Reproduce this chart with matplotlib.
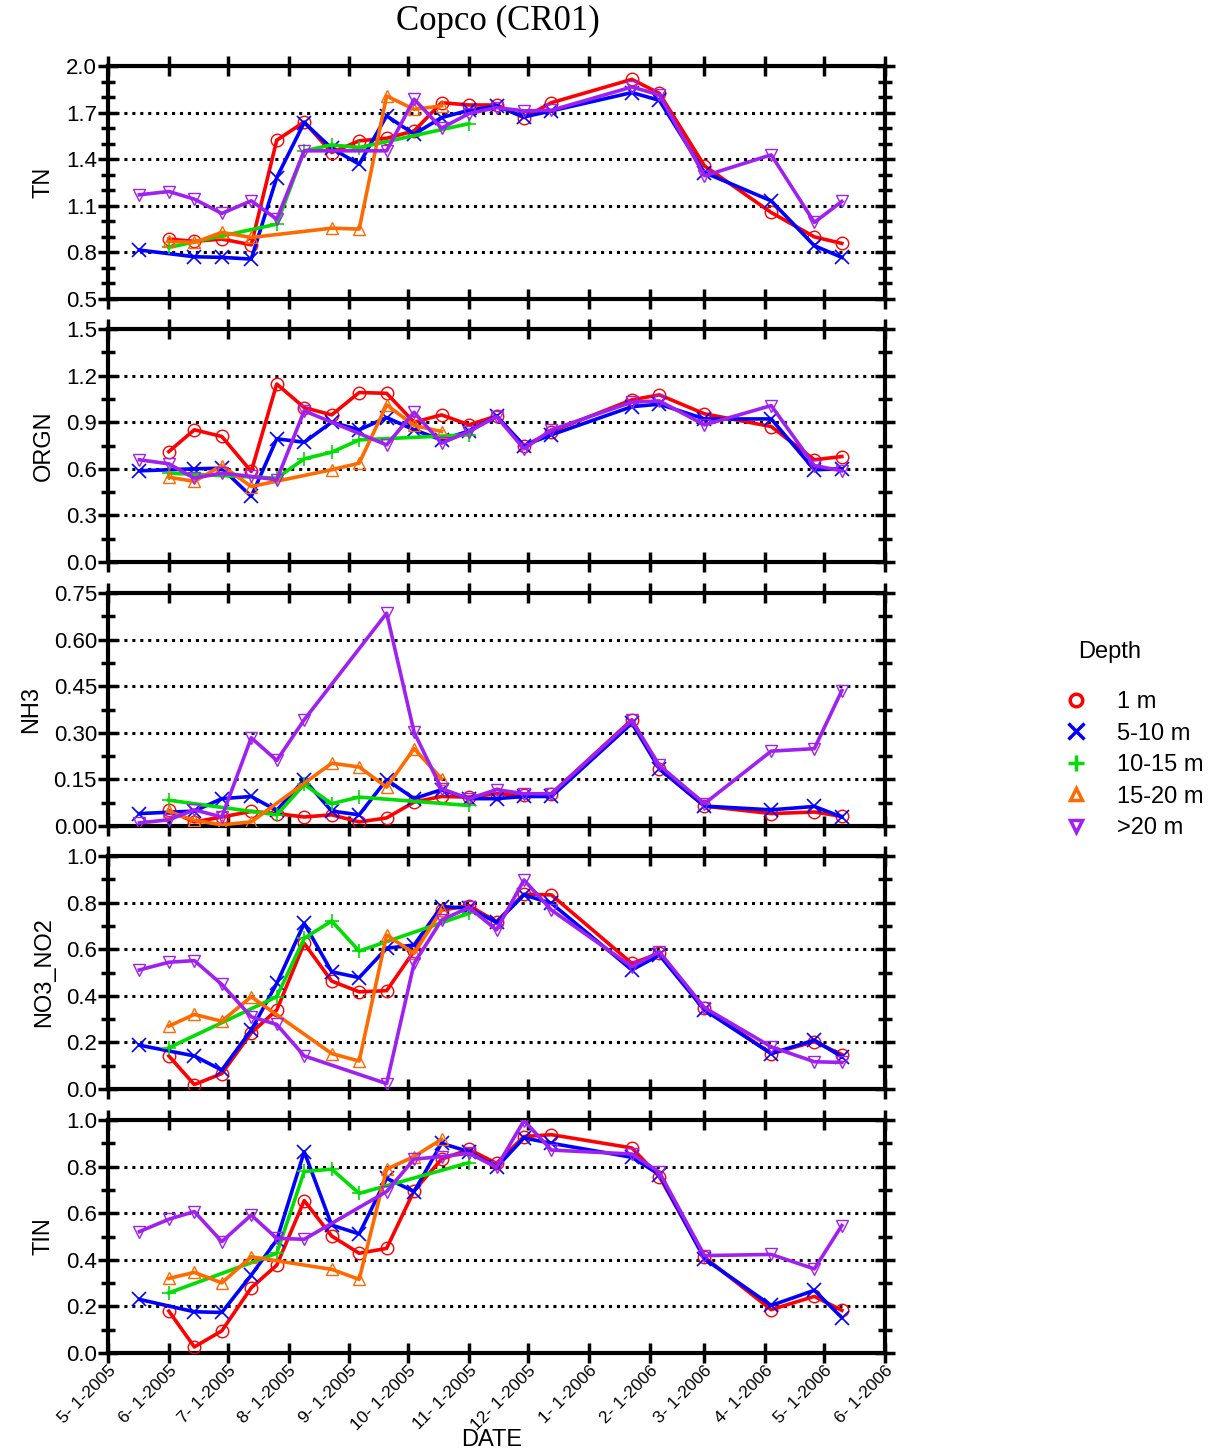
import numpy as np
import matplotlib
matplotlib.use('Agg')
from matplotlib import pyplot as plt
import matplotlib.dates as mdates
from matplotlib.ticker import FixedLocator, FormatStrFormatter, FuncFormatter
from matplotlib.lines import Line2D
import datetime as dt

nan = np.nan

# sample dates
dates = ['2005-05-17', '2005-06-01', '2005-06-14', '2005-06-28', '2005-07-13', '2005-07-26',
         '2005-08-09', '2005-08-23', '2005-09-06', '2005-09-20', '2005-10-04', '2005-10-18',
         '2005-11-01', '2005-11-15', '2005-11-29', '2005-12-13', '2006-01-23', '2006-02-06',
         '2006-03-01', '2006-04-04', '2006-04-26', '2006-05-10']

depths = ['1 m', '5-10 m', '10-15 m', '15-20 m', '>20 m']

# TN
tn_1 = [nan, 0.886, 0.871, 0.886, 0.849, 1.522, 1.64, 1.443, 1.518, 1.535, 1.582, 1.764, 1.749, 1.749, 1.668, 1.764, 1.914, 1.824, 1.357, 1.057, 0.90, 0.858]
tn_5 = [0.815, nan, 0.772, 0.768, 0.757, 1.282, 1.636, 1.47, 1.368, 1.679, 1.561, 1.668, 1.715, 1.743, 1.672, 1.711, 1.829, 1.779, 1.314, 1.132, 0.843, 0.768]
tn_10 = [nan, 0.832, nan, nan, nan, 0.982, 1.454, 1.492, 1.475, nan, nan, nan, 1.629, nan, nan, nan, nan, nan, nan, nan, nan, nan]
tn_15 = [nan, 0.871, 0.864, 0.929, 0.896, nan, nan, 0.956, 0.95, 1.807, 1.721, 1.743, nan, nan, nan, nan, nan, nan, nan, nan, nan, nan]
tn_20 = [1.171, 1.192, 1.143, 1.051, 1.132, 1.014, 1.454, nan, nan, 1.454, 1.786, 1.6, 1.694, 1.732, 1.711, 1.715, 1.865, 1.814, 1.293, 1.428, 0.993, 1.128]

# ORGN
orgn_1 = [nan, 0.711, 0.851, 0.808, 0.583, 1.146, 0.994, 0.947, 1.091, 1.086, 0.90, 0.947, 0.883, 0.94, 0.744, 0.84, 1.044, 1.076, 0.954, 0.872, 0.658, 0.679]
orgn_5 = [0.587, nan, 0.60, 0.604, 0.422, 0.793, 0.771, 0.90, 0.851, 0.93, 0.851, 0.786, 0.844, 0.94, 0.75, 0.819, 1.0, 1.016, 0.921, 0.921, 0.594, 0.60]
orgn_10 = [nan, 0.572, nan, nan, nan, 0.54, 0.664, 0.707, 0.786, nan, nan, nan, 0.819, nan, nan, nan, nan, nan, nan, nan, nan, nan]
orgn_15 = [nan, 0.546, 0.519, 0.621, 0.486, nan, nan, 0.594, 0.636, 1.011, 0.879, 0.84, nan, nan, nan, nan, nan, nan, nan, nan, nan, nan]
orgn_20 = [0.658, 0.632, 0.54, 0.572, 0.551, 0.529, 0.973, nan, nan, 0.754, 0.964, 0.765, 0.84, 0.936, 0.729, 0.851, 1.029, 1.037, 0.883, 1.007, 0.621, 0.587]

# NH3
nh3_1 = [nan, 0.05, 0.013, 0.029, 0.047, 0.04, 0.029, 0.036, 0.013, 0.026, 0.077, 0.095, 0.093, 0.104, 0.099, 0.104, 0.342, 0.184, 0.064, 0.04, 0.045, 0.031]
nh3_5 = [0.04, nan, 0.048, 0.088, 0.095, 0.05, 0.149, 0.048, 0.036, 0.149, 0.088, 0.117, 0.088, 0.088, 0.095, 0.095, 0.331, 0.184, 0.064, 0.052, 0.063, 0.029]
nh3_10 = [nan, 0.083, nan, nan, nan, 0.036, 0.134, 0.072, 0.093, nan, nan, nan, 0.066, nan, nan, nan, nan, nan, nan, nan, nan, nan]
nh3_15 = [nan, 0.047, 0.018, 0.004, 0.013, nan, nan, 0.202, 0.19, 0.125, 0.249, 0.152, nan, nan, nan, nan, nan, nan, nan, nan, nan, nan]
nh3_20 = [0.01, 0.02, 0.052, 0.029, 0.284, 0.211, 0.342, nan, nan, 0.685, 0.302, 0.12, 0.088, 0.117, 0.104, 0.104, 0.34, 0.195, 0.072, 0.241, 0.249, 0.436]

# NO3_NO2
no3_1 = [nan, 0.142, 0.019, 0.066, 0.241, 0.339, 0.625, 0.463, 0.417, 0.422, 0.592, 0.768, 0.787, 0.718, 0.836, 0.833, 0.539, 0.582, 0.346, 0.152, 0.203, 0.148]
no3_5 = [0.188, nan, 0.142, 0.081, 0.253, 0.453, 0.711, 0.503, 0.478, 0.604, 0.618, 0.783, 0.776, 0.715, 0.833, 0.797, 0.511, 0.575, 0.339, 0.152, 0.21, 0.138]
no3_10 = [nan, 0.177, nan, nan, nan, 0.396, 0.647, 0.721, 0.592, nan, nan, nan, 0.754, nan, nan, nan, nan, nan, nan, nan, nan, nan]
no3_15 = [nan, 0.27, 0.32, 0.291, 0.396, nan, nan, 0.152, 0.12, 0.661, 0.582, 0.768, nan, nan, nan, nan, nan, nan, nan, nan, nan, nan]
no3_20 = [0.511, 0.544, 0.551, 0.449, 0.31, 0.277, 0.142, nan, nan, 0.023, 0.539, 0.725, 0.779, 0.683, 0.897, 0.768, 0.525, 0.589, 0.349, 0.181, 0.117, 0.114]

# TIN
tin_1 = [nan, 0.18, 0.026, 0.095, 0.28, 0.377, 0.654, 0.502, 0.428, 0.449, 0.697, 0.832, 0.874, 0.814, 0.929, 0.937, 0.88, 0.757, 0.411, 0.186, 0.243, 0.183]
tin_5 = [0.23, nan, 0.177, 0.174, 0.334, 0.485, 0.864, 0.549, 0.511, 0.75, 0.693, 0.9, 0.864, 0.797, 0.923, 0.9, 0.84, 0.766, 0.404, 0.204, 0.269, 0.152]
tin_10 = [nan, 0.258, nan, nan, nan, 0.428, 0.779, 0.789, 0.685, nan, nan, nan, 0.817, nan, nan, nan, nan, nan, nan, nan, nan, nan]
tin_15 = [nan, 0.32, 0.346, 0.301, 0.413, nan, nan, 0.359, 0.316, 0.789, 0.843, 0.917, nan, nan, nan, nan, nan, nan, nan, nan, nan, nan]
tin_20 = [0.521, 0.574, 0.607, 0.478, 0.592, 0.492, 0.488, nan, nan, 0.693, 0.832, 0.843, 0.857, 0.797, 0.997, 0.871, 0.854, 0.776, 0.418, 0.423, 0.361, 0.547]

# panel name, series, ymin, ymax, major step, minor step, format
panels = [
    ('TN', [tn_1, tn_5, tn_10, tn_15, tn_20], 0.5, 2.0, 0.3, 0.1, '%.1f'),
    ('ORGN', [orgn_1, orgn_5, orgn_10, orgn_15, orgn_20], 0.0, 1.5, 0.3, 0.15, '%.1f'),
    ('NH3', [nh3_1, nh3_5, nh3_10, nh3_15, nh3_20], 0.0, 0.75, 0.15, 0.075, '%.2f'),
    ('NO3_NO2', [no3_1, no3_5, no3_10, no3_15, no3_20], 0.0, 1.0, 0.2, 0.1, '%.1f'),
    ('TIN', [tin_1, tin_5, tin_10, tin_15, tin_20], 0.0, 1.0, 0.2, 0.1, '%.1f'),
]

colors = ['#ff0000', '#0000ff', '#00dd00', '#ff6a00', '#a020f0']
markers = ['o', 'x', '+', '^', 'v']

plt.rcParams['font.family'] = ['Liberation Sans', 'DejaVu Sans']

x = mdates.date2num([dt.datetime.strptime(d, '%Y-%m-%d') for d in dates])
xmin = mdates.date2num(dt.datetime(2005, 5, 1))
xmax = mdates.date2num(dt.datetime(2006, 6, 1))
month_ticks = []
for i in range(14):
    m = 5 + i
    month_ticks.append(dt.datetime(2005 + (m - 1) // 12, (m - 1) % 12 + 1, 1))
month_ticks = mdates.date2num(month_ticks)


def fmt_date(v, pos):
    d = mdates.num2date(v)
    return '%d- %d-%d' % (d.month, d.day, d.year)


fig = plt.figure(figsize=(12.2, 14.53), dpi=100)
H = 1453.0
tops = [66, 329, 593, 856, 1120]
ph = 233
left = 108 / 1220.0
width = 777 / 1220.0

for k, (name, series, ylo, yhi, step, mstep, fmt) in enumerate(panels):
    top = tops[k]
    ax = fig.add_axes([left, 1 - (top + ph) / H, width, ph / H])
    # dotted gridlines at interior labelled values
    for g in np.arange(ylo + step, yhi - step / 2, step):
        ax.axhline(g, color='black', lw=2.2, ls=(0, (1, 1.6)), zorder=1)
    for s, c, mk in zip(series, colors, markers):
        y = np.array(s, dtype=float)
        ok = ~np.isnan(y)
        if mk in ('x', '+'):
            ax.plot(x[ok], y[ok], color=c, lw=2.6, marker=mk, ms=10, mew=1.2, zorder=3)
        else:
            ax.plot(x[ok], y[ok], color=c, lw=2.6, marker=mk, ms=9, mfc='none', mec=c, mew=1.0, zorder=3)
    ax.set_xlim(xmin, xmax)
    ax.set_ylim(ylo, yhi)
    ax.set_xticks(month_ticks)
    ax.xaxis.set_major_formatter(FuncFormatter(fmt_date))
    ax.yaxis.set_major_locator(FixedLocator(np.arange(ylo, yhi + step / 10, step)))
    ax.yaxis.set_minor_locator(FixedLocator(np.arange(ylo, yhi + mstep / 10, mstep)))
    ax.yaxis.set_major_formatter(FormatStrFormatter(fmt))
    ax.tick_params(axis='both', which='both', direction='inout', top=True, right=True, width=2.5)
    ax.tick_params(axis='both', which='major', length=14)
    ax.tick_params(axis='y', which='minor', length=10)
    ax.tick_params(axis='y', labelsize=16, pad=1)
    for sp in ax.spines.values():
        sp.set_linewidth(3)
    ax.set_ylabel(name, fontsize=17, labelpad=8)
    if k < 4:
        ax.tick_params(axis='x', labelbottom=False)
    else:
        ax.tick_params(axis='x', labelsize=12.5, pad=0)
        plt.setp(ax.get_xticklabels(), rotation=45, ha='right', rotation_mode='anchor')

fig.text(492 / 1220.0, 1 - 1440 / H, 'DATE', ha='center', va='center', fontsize=17)
fig.text(498 / 1220.0, 1 - 21 / H, 'Copco (CR01)', ha='center', va='center',
         fontsize=25, family=['Liberation Serif', 'DejaVu Serif'])

# legend
fig.text(1078 / 1220.0, 1 - 652 / H, 'Depth', ha='left', va='center', fontsize=17)
handles = []
for c, mk in zip(colors, markers):
    if mk in ('x', '+'):
        handles.append(Line2D([], [], ls='none', marker=mk, color=c, ms=11, mew=2.5))
    else:
        handles.append(Line2D([], [], ls='none', marker=mk, color=c, mfc='none', ms=9, mew=2.5))
leg = fig.legend(handles, depths, loc='upper left',
                 bbox_to_anchor=(1043 / 1220.0, 1 - 670 / H), frameon=False,
                 fontsize=17, handletextpad=1.25, labelspacing=0.4,
                 handlelength=1.0)

plt.savefig('out.png', dpi=100)
